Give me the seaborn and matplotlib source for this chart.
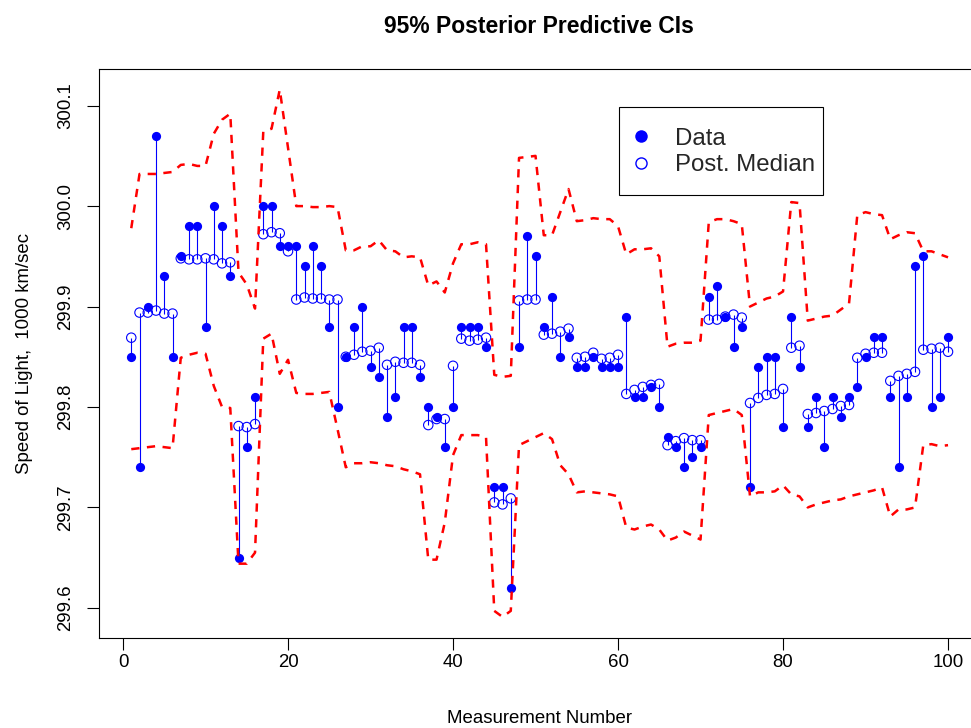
import numpy as np
import pandas as pd
import matplotlib
matplotlib.use("Agg")
import matplotlib.pyplot as plt
from matplotlib.lines import Line2D
from matplotlib.patches import Rectangle
import seaborn as sns

# ---------------- data ----------------
measurement = list(range(1, 101))

speed = [299.85, 299.74, 299.90, 300.07, 299.93, 299.85, 299.95, 299.98, 299.98, 299.88,
         300.00, 299.98, 299.93, 299.65, 299.76, 299.81, 300.00, 300.00, 299.96, 299.96,
         299.96, 299.94, 299.96, 299.94, 299.88, 299.80, 299.85, 299.88, 299.90, 299.84,
         299.83, 299.79, 299.81, 299.88, 299.88, 299.83, 299.80, 299.79, 299.76, 299.80,
         299.88, 299.88, 299.88, 299.86, 299.72, 299.72, 299.62, 299.86, 299.97, 299.95,
         299.88, 299.91, 299.85, 299.87, 299.84, 299.84, 299.85, 299.84, 299.84, 299.84,
         299.89, 299.81, 299.81, 299.82, 299.80, 299.77, 299.76, 299.74, 299.75, 299.76,
         299.91, 299.92, 299.89, 299.86, 299.88, 299.72, 299.84, 299.85, 299.85, 299.78,
         299.89, 299.84, 299.78, 299.81, 299.76, 299.81, 299.79, 299.81, 299.82, 299.85,
         299.87, 299.87, 299.81, 299.74, 299.81, 299.94, 299.95, 299.80, 299.81, 299.87]

post_median = [299.869, 299.894, 299.894, 299.896, 299.893, 299.893, 299.948, 299.947, 299.947, 299.948,
               299.947, 299.943, 299.944, 299.781, 299.780, 299.783, 299.972, 299.974, 299.973, 299.955,
               299.907, 299.909, 299.908, 299.908, 299.907, 299.907, 299.850, 299.852, 299.855, 299.856,
               299.859, 299.842, 299.845, 299.844, 299.844, 299.842, 299.782, 299.788, 299.788, 299.841,
               299.868, 299.866, 299.867, 299.869, 299.705, 299.703, 299.709, 299.906, 299.907, 299.907,
               299.872, 299.873, 299.875, 299.878, 299.849, 299.850, 299.854, 299.848, 299.849, 299.852,
               299.813, 299.817, 299.820, 299.822, 299.823, 299.762, 299.766, 299.769, 299.767, 299.767,
               299.887, 299.887, 299.890, 299.892, 299.889, 299.804, 299.809, 299.812, 299.813, 299.818,
               299.859, 299.861, 299.793, 299.794, 299.796, 299.798, 299.801, 299.802, 299.849, 299.853,
               299.854, 299.854, 299.826, 299.831, 299.833, 299.835, 299.857, 299.858, 299.859, 299.855]

ci_upper = [299.978, 300.032, 300.032, 300.032, 300.033, 300.034, 300.041, 300.042, 300.040, 300.040,
            300.072, 300.086, 300.092, 299.934, 299.922, 299.898, 300.074, 300.077, 300.116, 300.058,
            300.000, 300.000, 299.999, 299.999, 300.000, 299.999, 299.956, 299.956, 299.960, 299.960,
            299.966, 299.956, 299.955, 299.949, 299.950, 299.949, 299.921, 299.925, 299.914, 299.943,
            299.962, 299.962, 299.964, 299.962, 299.832, 299.830, 299.831, 300.048, 300.049, 300.050,
            299.971, 299.971, 299.994, 300.017, 299.985, 299.986, 299.988, 299.987, 299.987, 299.980,
            299.952, 299.957, 299.957, 299.958, 299.950, 299.860, 299.863, 299.864, 299.864, 299.866,
            299.984, 299.987, 299.987, 299.985, 299.982, 299.900, 299.904, 299.908, 299.910, 299.915,
            300.004, 300.003, 299.886, 299.888, 299.890, 299.891, 299.897, 299.903, 299.991, 299.994,
            299.992, 299.991, 299.967, 299.971, 299.974, 299.973, 299.955, 299.955, 299.952, 299.949]

ci_lower = [299.758, 299.759, 299.760, 299.761, 299.760, 299.759, 299.849, 299.852, 299.854, 299.853,
            299.821, 299.800, 299.799, 299.644, 299.644, 299.655, 299.868, 299.873, 299.833, 299.847,
            299.814, 299.813, 299.813, 299.814, 299.815, 299.778, 299.740, 299.744, 299.744, 299.745,
            299.744, 299.742, 299.741, 299.738, 299.736, 299.733, 299.648, 299.648, 299.685, 299.752,
            299.772, 299.772, 299.772, 299.770, 299.597, 299.591, 299.597, 299.762, 299.766, 299.770,
            299.774, 299.768, 299.742, 299.733, 299.715, 299.716, 299.715, 299.714, 299.713, 299.711,
            299.680, 299.678, 299.681, 299.683, 299.678, 299.667, 299.670, 299.676, 299.672, 299.668,
            299.792, 299.794, 299.796, 299.798, 299.792, 299.711, 299.715, 299.715, 299.716, 299.722,
            299.713, 299.711, 299.700, 299.703, 299.705, 299.707, 299.708, 299.711, 299.713, 299.715,
            299.717, 299.720, 299.691, 299.698, 299.698, 299.700, 299.762, 299.763, 299.761, 299.762]

x_ticks = [0, 20, 40, 60, 80, 100]
y_ticks = [299.6, 299.7, 299.8, 299.9, 300.0, 300.1]
y_tick_labels = ["299.6", "299.7", "299.8", "299.9", "300.0", "300.1"]

title = "95% Posterior Predictive CIs"
x_label = "Measurement Number"
y_label = "Speed of Light,  1000 km/sec"
legend_labels = ["Data", "Post. Median"]

df = pd.DataFrame({"measurement": measurement, "speed": speed, "median": post_median,
                   "upper": ci_upper, "lower": ci_lower})

# ---------------- style ----------------
sns.set_theme(style="ticks")
plt.rcParams["font.family"] = ["Liberation Sans", "DejaVu Sans"]

W, H = 971, 728
fig = plt.figure(figsize=(W / 100, H / 100), dpi=100)
fig.patch.set_facecolor("white")
ax_left, ax_right, ax_top, ax_bottom = 98.6, 980.7, 68.5, 638.0
ax = fig.add_axes([ax_left / W, 1 - ax_bottom / H, (ax_right - ax_left) / W, (ax_bottom - ax_top) / H])
ax.set_facecolor("white")

blue = "#0000FF"
red = "#FF0000"

# data points (filled)
sns.scatterplot(data=df, x="measurement", y="speed", ax=ax, color=blue, s=44,
                linewidth=0, zorder=2, legend=False)

# segments data -> median
ax.vlines(df["measurement"], df["speed"], df["median"], colors=blue, linewidth=0.8, zorder=3)

# posterior medians (open)
sns.scatterplot(data=df, x="measurement", y="median", ax=ax, color=blue, s=46,
                linewidth=0.8, zorder=4, legend=False)
ax.collections[-1].set_facecolor("none")
ax.collections[-1].set_edgecolor(blue)

# CI bounds
for col in ["upper", "lower"]:
    sns.lineplot(data=df, x="measurement", y=col, ax=ax, color=red, linewidth=1.8,
                 linestyle=(0, (3.3, 3.0)), zorder=5, legend=False, estimator=None)

ax.set_xlim(-2.96, 103.96)
ax.set_ylim(299.570, 300.137)
ax.set_xticks(x_ticks)
ax.set_xticklabels([str(t) for t in x_ticks])
ax.set_yticks(y_ticks)
ax.set_yticklabels(y_tick_labels, rotation=90, va="center")

for sp in ax.spines.values():
    sp.set_color("black")
    sp.set_linewidth(0.8)
    sp.set_visible(True)

fs = 13.4
ax.tick_params(axis="both", direction="out", length=8.3, width=0.8, colors="black",
               labelsize=fs)
ax.tick_params(axis="x", pad=3.5)
ax.tick_params(axis="y", pad=9.0)

ax.set_xlabel(x_label, fontsize=fs, labelpad=28, color="black")
ax.set_ylabel(y_label, fontsize=fs, labelpad=18, color="black")
ax.set_title(title, fontsize=16.5, fontweight="bold", pad=25.5, color="black",
             x=(539 - ax_left) / (ax_right - ax_left))

# legend (frame drawn separately to match the reference box)
handles = [
    Line2D([], [], marker="o", linestyle="none", color=blue, markersize=9.0, markeredgewidth=0),
    Line2D([], [], marker="o", linestyle="none", markerfacecolor="none", markeredgecolor=blue,
           markersize=8.0, markeredgewidth=1.0),
]
leg = fig.legend(handles, legend_labels, loc="upper left",
                 bbox_to_anchor=(619 / W, 1 - 107 / H), fontsize=17.3,
                 frameon=False, borderpad=0.86, labelspacing=0.18,
                 handlelength=0.1, handletextpad=1.38, borderaxespad=0)
fig.patches.append(Rectangle((619 / W, 1 - 195 / H), (823 - 619) / W, (195 - 107) / H,
                             transform=fig.transFigure, facecolor="white", edgecolor="black",
                             linewidth=0.8, zorder=0.5))

fig.savefig("out.png", dpi=100, facecolor="white")
